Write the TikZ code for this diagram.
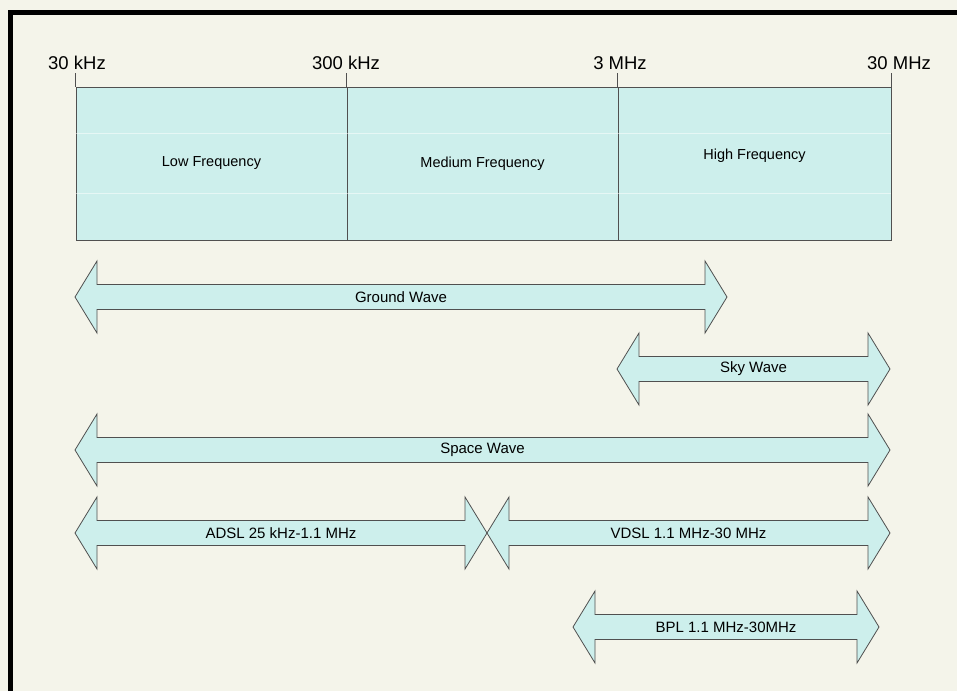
\documentclass[tikz,border=0pt]{standalone}
\usepackage{fontspec}
\setmainfont{Liberation Sans}
\usetikzlibrary{positioning}
\definecolor{paper}{RGB}{244,244,234}
\definecolor{aqua}{RGB}{205,239,236}
\definecolor{edge}{RGB}{80,80,80}
\tikzset{
  band/.style={draw=edge, fill=aqua, line width=0.8pt, minimum height=153pt, inner sep=0pt, font=\fontsize{14.5}{16}\selectfont},
  freq/.style={anchor=base, inner sep=0pt, font=\fontsize{18.5}{20}\selectfont},
  wave/.style={draw=edge, fill=aqua, line width=0.8pt, line join=miter},
  wavetext/.style={inner sep=0pt, font=\fontsize{15}{17}\selectfont}
}
% name, left tip, right tip, y, text
\newcommand{\WaveArrow}[5]{%
  \draw[wave] (#2,#4) -- ({#2+22},{#4-36}) -- ({#2+22},{#4-12.5}) -- ({#3-22},{#4-12.5})
    -- ({#3-22},{#4-36}) -- (#3,#4) -- ({#3-22},{#4+36}) -- ({#3-22},{#4+12.5})
    -- ({#2+22},{#4+12.5}) -- ({#2+22},{#4+36}) -- cycle;
  \node[wavetext] (#1) at ({(#2+#3)/2},#4) {#5};
}

\begin{document}
\begin{tikzpicture}[x=1pt, y=-1pt]
\useasboundingbox (0,0) rectangle (957,691);
\fill[paper] (0,0) rectangle (957,691);
\draw[line width=4.5pt] (10.5,691) -- (10.5,12.5) -- (957,12.5);

% frequency bands
\node[band, minimum width=271pt] (LF) at (211.5,163.5) {Low Frequency};
\node[band, minimum width=271pt] (MF) at (482.5,163.5) {Medium Frequency};
\node[band, minimum width=273pt] (HF) at (754.5,163.5) {};
\node[band, draw=none, fill=none, minimum height=0pt, yshift=8pt] (HFtext) at (HF.center) {High Frequency};

\draw[white, line width=1pt, opacity=0.5] (LF.west |- 0,133) -- (HF.east |- 0,133);
\draw[white, line width=1pt, opacity=0.5] (LF.west |- 0,193) -- (HF.east |- 0,193);

\draw[edge, line width=0.8pt] (LF.north west) -- ++(0,-14);
\draw[edge, line width=0.8pt] (MF.north west) -- ++(0,-14);
\draw[edge, line width=0.8pt] (HF.north west) -- ++(0,-14);
\draw[edge, line width=0.8pt] (HF.north east) -- ++(0,-14);

\node[freq] (F1) at (77,69) {30 kHz};
\node[freq] (F2) at (346,69) {300 kHz};
\node[freq] (F3) at (620,69) {3 MHz};
\node[freq] (F4) at (899,69) {30 MHz};

% propagation and services
\WaveArrow{GW}{75}{727}{297}{Ground Wave}
\WaveArrow{SW}{617}{890}{369}{Sky Wave}
\WaveArrow{PW}{75}{890}{450}{Space Wave}
\WaveArrow{ADSL}{75}{487}{533}{ADSL 25 kHz-1.1 MHz}
\WaveArrow{VDSL}{487}{890}{533}{VDSL 1.1 MHz-30 MHz}
\WaveArrow{BPL}{573}{879}{627}{BPL 1.1 MHz-30MHz}

\end{tikzpicture}
\end{document}
